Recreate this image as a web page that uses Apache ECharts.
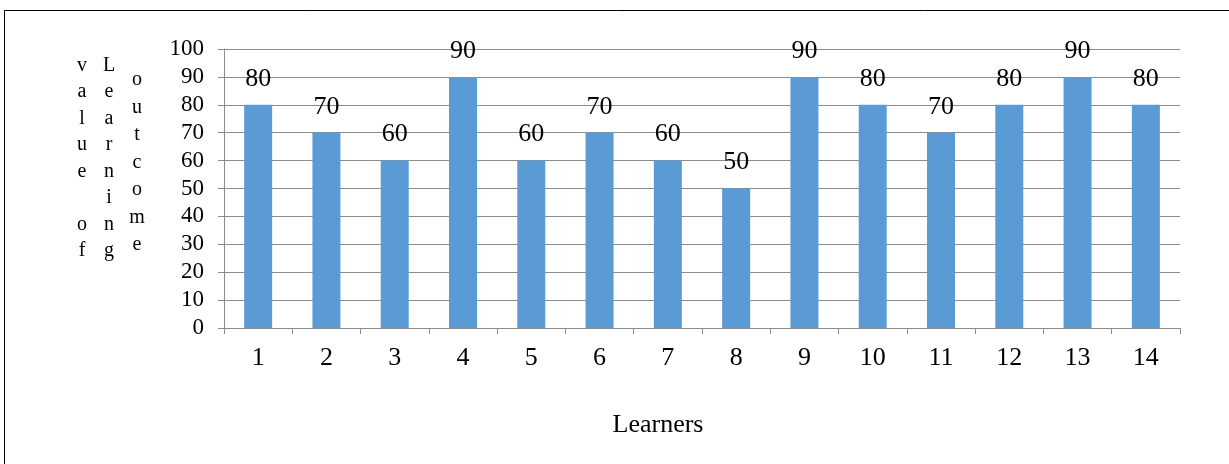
<!DOCTYPE html>
<html>
<head>
<meta charset="utf-8">
<script src="https://cdn.jsdelivr.net/npm/echarts@6/dist/echarts.min.js"></script>
<style>
  html, body { margin: 0; padding: 0; background: #fff; }
  #chart { width: 1229px; height: 464px; }
</style>
</head>
<body>
<div id="chart"></div>
<script>
// Learners and their learning outcome scores
const learners = ['1', '2', '3', '4', '5', '6', '7', '8', '9', '10', '11', '12', '13', '14'];
const outcomeValues = [80, 70, 60, 90, 60, 70, 60, 50, 90, 80, 70, 80, 90, 80];
const yTicks = { min: 0, max: 100, interval: 10 };

// Axis titles; the vertical one is stacked one letter per line in three columns
const xTitle = 'Learners';
const titleColumns = ['value of', 'Learning', 'outcome'];
const stack = s => s.split('').map(c => (c === ' ' ? '' : c)).join('\n');

const serif = '"Liberation Serif", "Times New Roman", serif';
const gridColor = '#8c8c8c';

const chart = echarts.init(document.getElementById('chart'));
chart.setOption({
  animation: false,
  backgroundColor: '#fff',
  grid: { left: 224, right: 49, top: 49, bottom: 136 },
  xAxis: {
    type: 'category',
    data: learners,
    axisLine: { lineStyle: { color: gridColor, width: 1 } },
    axisTick: { show: true, length: 6, lineStyle: { color: gridColor } },
    axisLabel: { fontFamily: serif, fontSize: 26, color: '#000', margin: 17 }
  },
  yAxis: {
    type: 'value',
    min: yTicks.min,
    max: yTicks.max,
    interval: yTicks.interval,
    axisLine: { show: true, lineStyle: { color: gridColor, width: 1 } },
    axisTick: { show: true, length: 6, lineStyle: { color: gridColor } },
    axisLabel: { fontFamily: serif, fontSize: 23, color: '#000', margin: 20 },
    splitLine: { lineStyle: { color: gridColor, width: 1 } }
  },
  series: [{
    type: 'bar',
    data: outcomeValues,
    barWidth: 28,
    itemStyle: { color: '#5B9BD5' },
    label: {
      show: true,
      position: 'top',
      distance: 13,
      fontFamily: serif,
      fontSize: 26,
      color: '#000'
    }
  }],
  graphic: [
    {
      type: 'rect',
      silent: true,
      shape: { x: 4.5, y: 10.5, width: 1240, height: 470 },
      style: { fill: 'none', stroke: '#000', lineWidth: 1 }
    },
    {
      type: 'text', x: 658, y: 425,
      style: { text: xTitle, font: '26px ' + serif, fill: '#000', align: 'center', verticalAlign: 'middle' }
    },
    {
      type: 'text', x: 82, y: 52,
      style: { text: stack(titleColumns[0]), font: '20px ' + serif, fill: '#000', lineHeight: 26.5, align: 'center' }
    },
    {
      type: 'text', x: 109, y: 52,
      style: { text: stack(titleColumns[1]), font: '20px ' + serif, fill: '#000', lineHeight: 26.5, align: 'center' }
    },
    {
      type: 'text', x: 137, y: 66,
      style: { text: stack(titleColumns[2]), font: '20px ' + serif, fill: '#000', lineHeight: 27.5, align: 'center' }
    }
  ]
});
</script>
</body>
</html>
